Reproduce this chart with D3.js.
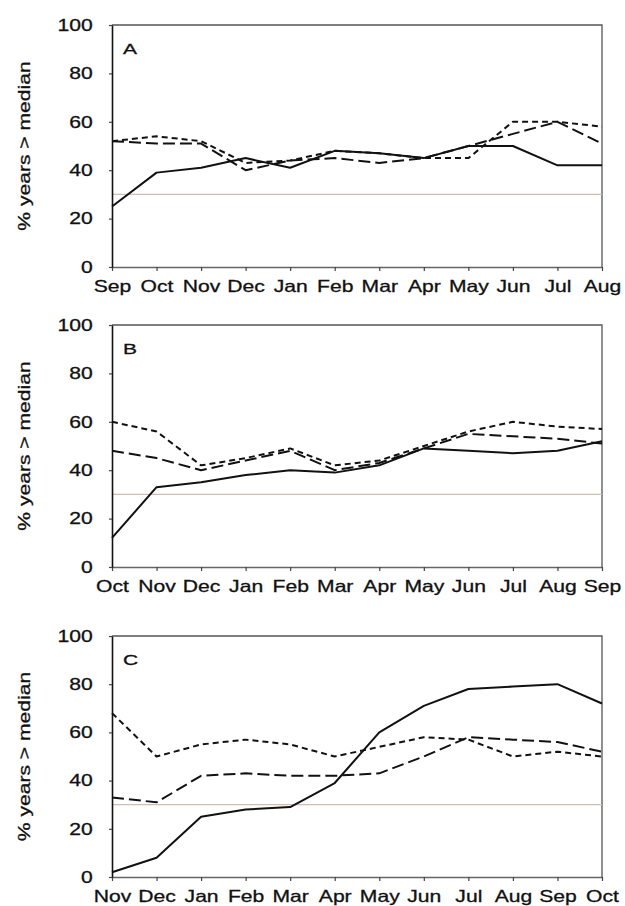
<!DOCTYPE html>
<html>
<head>
<meta charset="utf-8">
<script src="https://cdn.jsdelivr.net/npm/d3@7"></script>
<style>
  body { margin: 0; background: #fff; }
  svg { display: block; }
  text { font-family: "Liberation Sans", Arial, sans-serif; fill: #111; }
</style>
</head>
<body>
<div id="chart"></div>
<script>
// step 0 the data
const monthsA = ["Sep", "Oct", "Nov", "Dec", "Jan", "Feb", "Mar", "Apr", "May", "Jun", "Jul", "Aug"];
const monthsB = ["Oct", "Nov", "Dec", "Jan", "Feb", "Mar", "Apr", "May", "Jun", "Jul", "Aug", "Sep"];
const monthsC = ["Nov", "Dec", "Jan", "Feb", "Mar", "Apr", "May", "Jun", "Jul", "Aug", "Sep", "Oct"];

const solidA = [25, 39, 41, 45, 41, 48, 47, 45, 50, 50, 42, 42];
const longA  = [52, 51, 51, 40, 44, 45, 43, 45, 50, 55, 60, 51];
const shortA = [52, 54, 52, 43, 44, 48, 47, 45, 45, 60, 60, 58];

const solidB = [12, 33, 35, 38, 40, 39, 42, 49, 48, 47, 48, 52];
const longB  = [48, 45, 40, 44, 48, 40, 43, 49, 55, 54, 53, 51];
const shortB = [60, 56, 42, 45, 49, 42, 44, 50, 56, 60, 58, 57];

const solidC = [2, 8, 25, 28, 29, 39, 60, 71, 78, 79, 80, 72];
const longC  = [33, 31, 42, 43, 42, 42, 43, 50, 58, 57, 56, 52];
const shortC = [68, 50, 55, 57, 55, 50, 54, 58, 57, 50, 52, 50];

const panelLetters = ["A", "B", "C"];
const yTicks = [0, 20, 40, 60, 80, 100];
const refValue = 30;

// step 1 constants and svg
const W = 625, H = 906;
const xLeft = 112, xRight = 602;
const stretch = 1.28; // the scanned text is wider than normal Arial

let svg = d3.select("#chart")
  .append("svg")
  .attr("width", W)
  .attr("height", H);

function styleText(sel) {
  sel.attr("font-size", 16.5)
    .attr("fill", "#111")
    .attr("stroke", "#111")
    .attr("stroke-width", 0.3)
    .attr("font-family", "Liberation Sans, Arial, sans-serif")
    .attr("transform", "scale(" + stretch + ",1)");
}

// step 2 one panel
function drawPanel(months, solid, longDash, shortDash, letter, yTop, yBottom) {
  let g = svg.append("g");

  let xScale = d3.scalePoint().domain(months).range([xLeft, xRight]);
  let yScale = d3.scaleLinear().domain([0, 100]).range([yBottom, yTop]);

  // frame (top and right)
  g.append("path")
    .attr("d", "M" + xLeft + "," + yTop + "H" + xRight + "V" + yBottom)
    .attr("fill", "none")
    .attr("stroke", "#555")
    .attr("stroke-width", 1.3);

  // reference line
  g.append("line")
    .attr("x1", xLeft).attr("x2", xRight)
    .attr("y1", yScale(refValue)).attr("y2", yScale(refValue))
    .attr("stroke", "#cdbdb5")
    .attr("stroke-width", 1.3);

  // axes
  let xAxis = d3.axisBottom(xScale).tickSizeInner(4).tickSizeOuter(0).tickPadding(9);
  let yAxis = d3.axisLeft(yScale).tickValues(yTicks).tickSizeInner(3).tickSizeOuter(0).tickPadding(12);

  let gx = g.append("g")
    .attr("class", "x axis")
    .attr("transform", "translate(0," + yBottom + ")")
    .call(xAxis);
  gx.select(".domain").attr("stroke", "#666").attr("stroke-width", 1.4);
  gx.selectAll(".tick line").attr("stroke", "#444").attr("stroke-width", 1.2);
  styleText(gx.selectAll(".tick text"));

  let gy = g.append("g")
    .attr("class", "y axis")
    .attr("transform", "translate(" + xLeft + ",0)")
    .call(yAxis);
  gy.select(".domain").attr("stroke", "#111").attr("stroke-width", 1.6);
  gy.selectAll(".tick line").attr("stroke", "#444").attr("stroke-width", 1.2);
  styleText(gy.selectAll(".tick text"));

  // y label
  g.append("text")
    .attr("text-anchor", "middle")
    .attr("font-size", 16.5)
    .attr("stroke", "#111")
    .attr("stroke-width", 0.3)
    .attr("transform", "translate(30," + ((yTop + yBottom) / 2) + ") rotate(-90) scale(" + stretch + ",1)")
    .text("% years > median");

  // panel letter
  g.append("text")
    .attr("x", 0).attr("y", 0)
    .attr("font-size", 15)
    .attr("stroke", "#111")
    .attr("stroke-width", 0.3)
    .attr("transform", "translate(123," + (yTop + 29) + ") scale(1.4,1)")
    .text(letter);

  // step 3 lines
  let lineGen = d3.line()
    .x((d, i) => xScale(months[i]))
    .y((d) => yScale(d));

  let series = [
    { values: shortDash, dash: "6,4" },
    { values: longDash, dash: "12,5" },
    { values: solid, dash: null }
  ];

  g.selectAll(".series")
    .data(series)
    .enter()
    .append("path")
    .attr("class", "series")
    .attr("fill", "none")
    .attr("stroke", "#111")
    .attr("stroke-width", 2)
    .attr("stroke-linejoin", "round")
    .attr("stroke-dasharray", (d) => d.dash)
    .attr("d", (d) => lineGen(d.values));
}

drawPanel(monthsA, solidA, longA, shortA, panelLetters[0], 25, 267);
drawPanel(monthsB, solidB, longB, shortB, panelLetters[1], 325, 567);
drawPanel(monthsC, solidC, longC, shortC, panelLetters[2], 636, 877);
</script>
</body>
</html>
